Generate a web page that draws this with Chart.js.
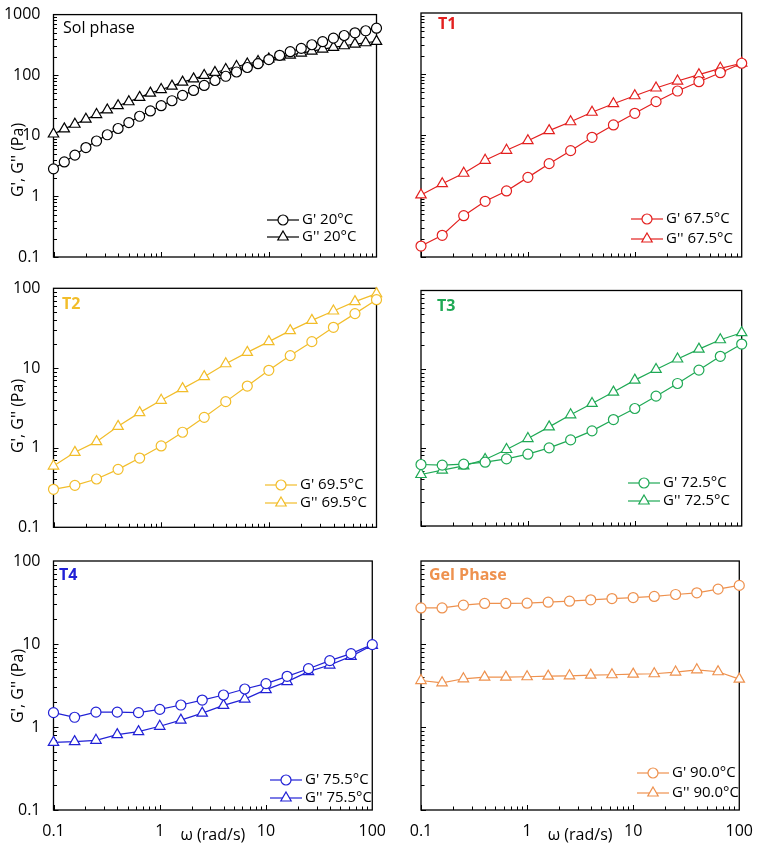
<!DOCTYPE html>
<html>
<head>
<meta charset="utf-8">
<script src="https://cdn.jsdelivr.net/npm/chart.js@4.4.1/dist/chart.umd.min.js"></script>
<style>
  body { margin: 0; background: #fff; width: 757px; height: 849px; position: relative; overflow: hidden; }
  canvas { position: absolute; }
</style>
</head>
<body>
<script>
// angular frequency (rad/s)
const freqSol = [0.1, 0.126, 0.158, 0.2, 0.251, 0.316, 0.398, 0.501, 0.631, 0.794,
                 1, 1.26, 1.58, 2, 2.51, 3.16, 3.98, 5.01, 6.31, 7.94,
                 10, 12.6, 15.8, 20, 25.1, 31.6, 39.8, 50.1, 63.1, 79.4, 100];
const freq = [0.1, 0.158, 0.251, 0.398, 0.631, 1, 1.58, 2.51, 3.98, 6.31, 10, 15.8, 25.1, 39.8, 63.1, 100];

// G' and G'' (Pa) per temperature
const solG1 = [2.85, 3.7, 4.8, 6.4, 8.2, 10.4, 13.2, 16.5, 21, 25.7, 31.4, 37.9, 46.5, 56, 67.8, 81.8,
               96, 113, 134, 155, 181, 213, 244, 277, 318, 357, 409, 452, 501, 541, 597];
const solG2 = [10.7, 13, 15.5, 18.8, 22.4, 26.7, 31.4, 36.5, 43, 50.7, 58, 66, 77, 87, 99, 111,
               124, 139, 153, 168, 185, 200, 215, 232, 250, 270, 288, 306, 326, 343, 361];
const t1G1 = [0.151, 0.227, 0.476, 0.818, 1.21, 2.02, 3.39, 5.54, 9.16, 14.6, 22.7, 35.2, 52.6, 74.8, 105, 150];
const t1G2 = [1.04, 1.59, 2.36, 3.85, 5.61, 8.07, 11.8, 16.5, 23.6, 32.6, 44, 58.9, 76.7, 97.4, 124, 150];
const t2G1 = [0.3, 0.336, 0.404, 0.534, 0.74, 1.05, 1.56, 2.4, 3.78, 5.93, 9.35, 14.3, 21.4, 32.4, 48.1, 72];
const t2G2 = [0.587, 0.873, 1.19, 1.85, 2.75, 3.93, 5.5, 7.78, 11.3, 15.7, 21.4, 29.4, 39.6, 51.9, 68, 85.7];
const t3G1 = [0.607, 0.596, 0.613, 0.65, 0.716, 0.822, 0.99, 1.25, 1.63, 2.27, 3.14, 4.51, 6.54, 9.68, 14.5, 20.8];
const t3G2 = [0.453, 0.514, 0.584, 0.703, 0.943, 1.3, 1.83, 2.61, 3.64, 5.08, 7.21, 9.87, 13.4, 17.9, 23.6, 29];
const t4G1 = [1.49, 1.31, 1.51, 1.51, 1.49, 1.63, 1.84, 2.11, 2.43, 2.87, 3.33, 4.08, 5.04, 6.3, 7.65, 9.82];
const t4G2 = [0.653, 0.666, 0.691, 0.809, 0.879, 1.02, 1.21, 1.47, 1.82, 2.17, 2.82, 3.52, 4.64, 5.58, 7.1, 9.64];
const gelG1 = [27.2, 27.2, 29.4, 30.8, 30.8, 31, 31.9, 32.8, 34.1, 35.3, 36.3, 37.4, 39.5, 41.4, 45.8, 50.8];
const gelG2 = [3.63, 3.41, 3.81, 3.99, 3.99, 4.03, 4.1, 4.14, 4.22, 4.26, 4.34, 4.38, 4.59, 4.89, 4.63, 3.77];

const yTicksTop = [0.1, 1, 10, 100, 1000];
const yTicks = [0.1, 1, 10, 100];
const xTicks = [0.1, 1, 10, 100];

const FONT = "'Open Sans', sans-serif";
Chart.defaults.font.family = FONT;
Chart.defaults.color = '#000';

// panel layout (page px): canvas box, plot-area padding, label and legend spots
const panels = [
  { x: freqSol, g1: solG1, g2: solG2, temp: '20°C', color: '#000000', tag: 'Sol phase', bold: false,
    left: 0, top: 0, w: 390, h: 280, yw: 53.5, padR: 13.5, padT: 13, xh: 23, ymax: 1000, ticks: yTicksTop,
    yLabels: true, xLabels: false, tagX: 63, tagY: 28, legX: 267, legY: [220, 237], titleY: 160 },
  { x: freq, g1: t1G1, g2: t1G2, temp: '67.5°C', color: '#e3201f', tag: 'T1', bold: true,
    left: 378, top: 0, w: 379, h: 280, yw: 43, padR: 15.3, padT: 13, xh: 23, ymax: 1000, ticks: yTicksTop,
    yLabels: false, xLabels: false, tagX: 438, tagY: 24, legX: 631, legY: [219, 239] },
  { x: freq, g1: t2G1, g2: t2G2, temp: '69.5°C', color: '#f2bd2a', tag: 'T2', bold: true,
    left: 0, top: 270, w: 390, h: 280, yw: 53.5, padR: 13.5, padT: 18.3, xh: 22.7, ymax: 100, ticks: yTicks,
    yLabels: true, xLabels: false, tagX: 62, tagY: 304, legX: 265, legY: [485, 503], titleY: 416 },
  { x: freq, g1: t3G1, g2: t3G2, temp: '72.5°C', color: '#1fa955', tag: 'T3', bold: true,
    left: 378, top: 270, w: 379, h: 280, yw: 43, padR: 15.3, padT: 20.5, xh: 24, ymax: 100, ticks: yTicks,
    yLabels: false, xLabels: false, tagX: 437, tagY: 306, legX: 628, legY: [483, 501] },
  { x: freq, g1: t4G1, g2: t4G2, temp: '75.5°C', color: '#2121d6', tag: 'T4', bold: true,
    left: 0, top: 540, w: 390, h: 309, yw: 53.5, padR: 13.5, padT: 21, xh: 39, ymax: 100, ticks: yTicks,
    yLabels: true, xLabels: true, tagX: 59, tagY: 575, legX: 270, legY: [780, 798], titleY: 686 },
  { x: freq, g1: gelG1, g2: gelG2, temp: '90.0°C', color: '#ee914e', tag: 'Gel Phase', bold: true,
    left: 378, top: 540, w: 379, h: 309, yw: 43, padR: 15.3, padT: 21, xh: 39, ymax: 100, ticks: yTicks,
    yLabels: false, xLabels: true, tagX: 429, tagY: 575, legX: 637, legY: [773, 793] }
];

function marker(ctx, style, x, y, r) {
  ctx.beginPath();
  if (style === 'circle') {
    ctx.arc(x, y, r, 0, Math.PI * 2);
  } else {
    let rad = 0;
    ctx.moveTo(x + Math.sin(rad) * r, y - Math.cos(rad) * r);
    rad += Math.PI * 2 / 3;
    ctx.lineTo(x + Math.sin(rad) * r, y - Math.cos(rad) * r);
    rad += Math.PI * 2 / 3;
    ctx.lineTo(x + Math.sin(rad) * r, y - Math.cos(rad) * r);
    ctx.closePath();
  }
  ctx.fill();
  ctx.stroke();
}

function framePlugin(p) {
  return {
    id: 'frame',
    beforeDatasetsDraw(chart) {
      const { ctx, chartArea: a, scales: { x, y } } = chart;
      ctx.save();
      ctx.strokeStyle = '#000';
      ctx.lineWidth = 1.3;
      ctx.strokeRect(a.left, a.top, a.right - a.left, a.bottom - a.top);
      ctx.lineWidth = 1;
      ctx.beginPath();
      // inner minor ticks, log decades
      for (let d = 0.1; d < p.ymax * 0.99; d *= 10) {
        for (let k = 1; k <= 9; k++) {
          const py = Math.round(y.getPixelForValue(k * d)) + 0.5;
          const len = k === 1 ? 5 : 3.5;
          ctx.moveTo(a.left, py);
          ctx.lineTo(a.left + len, py);
        }
      }
      for (let d = 0.1; d < 99; d *= 10) {
        for (let k = 1; k <= 9; k++) {
          const px = Math.round(x.getPixelForValue(k * d)) + 0.5;
          const len = k === 1 ? 5 : 3.5;
          ctx.moveTo(px, a.bottom);
          ctx.lineTo(px, a.bottom - len);
        }
      }
      ctx.stroke();
      ctx.restore();
    },
    afterDraw(chart) {
      const { ctx } = chart;
      ctx.save();
      ctx.translate(-p.left, -p.top);
      ctx.textAlign = 'left';
      ctx.textBaseline = 'middle';
      // y axis title (Excel puts it a bit off-centre on the top panel)
      if (p.yLabels) {
        ctx.save();
        ctx.translate(18.5, p.titleY);
        ctx.rotate(-Math.PI / 2);
        ctx.fillStyle = '#000';
        ctx.font = '16px ' + FONT;
        ctx.textAlign = 'center';
        ctx.fillText("G', G'' (Pa)", 0, 0);
        ctx.restore();
      }
      // panel tag
      ctx.fillStyle = p.color;
      ctx.font = (p.bold ? 'bold ' : '') + '16px ' + FONT;
      ctx.fillText(p.tag, p.tagX, p.tagY);
      // legend
      chart.data.datasets.forEach((ds, i) => {
        const ly = p.legY[i];
        ctx.strokeStyle = p.color;
        ctx.lineWidth = 1.2;
        ctx.beginPath();
        ctx.moveTo(p.legX, ly);
        ctx.lineTo(p.legX + 32, ly);
        ctx.stroke();
        ctx.fillStyle = '#fff';
        marker(ctx, ds.pointStyle, p.legX + 16, ly, ds.pointRadius);
        ctx.fillStyle = '#000';
        ctx.font = '15px ' + FONT;
        ctx.fillText(ds.label, p.legX + 35, ly);
      });
      ctx.restore();
    }
  };
}

function makePanel(p) {
  const canvas = document.createElement('canvas');
  canvas.width = p.w;
  canvas.height = p.h;
  canvas.style.left = p.left + 'px';
  canvas.style.top = p.top + 'px';
  document.body.appendChild(canvas);

  const series = (vals, style, label) => ({
    label: label,
    data: p.x.map((f, i) => ({ x: f, y: vals[i] })),
    borderColor: p.color,
    borderWidth: 1.2,
    pointStyle: style,
    pointRadius: style === 'circle' ? 5 : 6,
    pointBorderWidth: 1.2,
    pointBorderColor: p.color,
    pointBackgroundColor: '#fff',
    tension: 0,
    clip: false
  });

  new Chart(canvas, {
    type: 'line',
    data: {
      datasets: [
        series(p.g1, 'circle', "G' " + p.temp),
        series(p.g2, 'triangle', "G'' " + p.temp)
      ]
    },
    options: {
      responsive: false,
      animation: false,
      layout: { padding: { left: 0, right: p.padR, top: p.padT, bottom: 0 } },
      plugins: { legend: { display: false }, tooltip: { enabled: false } },
      scales: {
        x: {
          type: 'logarithmic',
          min: 0.1,
          max: 100,
          afterBuildTicks: s => { s.ticks = xTicks.map(v => ({ value: v })); },
          afterFit: s => { s.height = p.xh; },
          grid: { display: false },
          border: { display: false },
          ticks: { display: p.xLabels, autoSkip: false, maxRotation: 0, padding: 4,
                   font: { size: 16 }, callback: v => String(v) },
          title: { display: p.xLabels, text: 'ω (rad/s)', font: { size: 16 }, padding: { top: 0, bottom: 4 } }
        },
        y: {
          type: 'logarithmic',
          min: 0.1,
          max: p.ymax,
          afterBuildTicks: s => { s.ticks = p.ticks.map(v => ({ value: v })); },
          afterFit: s => { s.width = p.yw; },
          grid: { display: false },
          border: { display: false },
          ticks: { display: p.yLabels, autoSkip: false, padding: 5,
                   font: { size: 16 }, callback: v => String(v) }
        }
      }
    },
    plugins: [framePlugin(p)]
  });
}

panels.forEach(makePanel);
</script>
</body>
</html>
